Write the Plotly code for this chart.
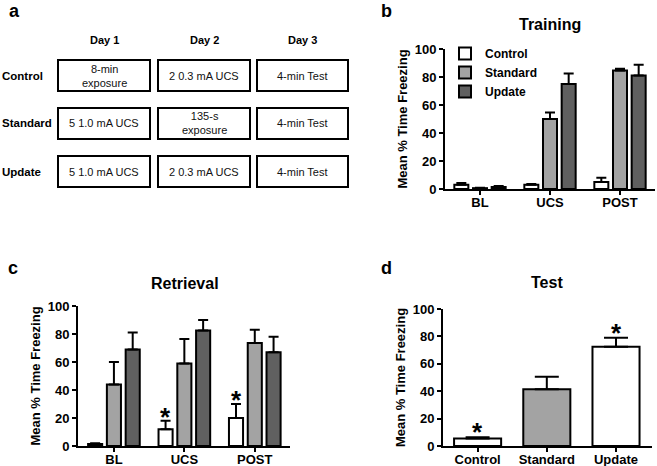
import plotly.graph_objects as go

W, H = 657, 466

# ---------------- data ----------------
phases = ["BL", "UCS", "POST"]
groups = ["Control", "Standard", "Update"]

training_control = [3.0, 3.0, 5.0]
training_control_err = [1.3, 0.6, 3.0]
training_standard = [0.6, 50.0, 84.7]
training_standard_err = [0.3, 4.6, 1.2]
training_update = [1.5, 75.0, 81.0]
training_update_err = [0.6, 7.5, 7.7]

retrieval_control = [1.5, 12.0, 20.0]
retrieval_control_err = [0.5, 6.0, 10.0]
retrieval_standard = [44.0, 59.0, 73.5]
retrieval_standard_err = [16.0, 17.5, 9.5]
retrieval_update = [69.0, 82.5, 67.0]
retrieval_update_err = [12.0, 7.5, 11.0]

test_groups = ["Control", "Standard", "Update"]
test_values = [5.5, 41.5, 72.5]
test_err = [0.8, 9.0, 6.5]

retrieval_sig = [("UCS", "Control"), ("POST", "Control")]
test_sig = ["Control", "Update"]

y_ticks = [0, 20, 40, 60, 80, 100]

design_days = ["Day 1", "Day 2", "Day 3"]
design_rows = ["Control", "Standard", "Update"]
design_cells = [
    ["8-min<br>exposure", "2 0.3 mA UCS", "4-min Test"],
    ["5 1.0 mA UCS", "135-s<br>exposure", "4-min Test"],
    ["5 1.0 mA UCS", "2 0.3 mA UCS", "4-min Test"],
]

# ---------------- styles ----------------
FONT = "Liberation Sans, Arial, sans-serif"
colors = {"Control": "#ffffff", "Standard": "#a3a3a3", "Update": "#606060"}
test_colors = ["#ffffff", "#a3a3a3", "#ffffff"]
BARGAP = 0.2


def px(xp):
    return xp / W


def py(yp):
    return 1 - yp / H


fig = go.Figure()

series_b = [
    ("Control", training_control, training_control_err),
    ("Standard", training_standard, training_standard_err),
    ("Update", training_update, training_update_err),
]
series_c = [
    ("Control", retrieval_control, retrieval_control_err),
    ("Standard", retrieval_standard, retrieval_standard_err),
    ("Update", retrieval_update, retrieval_update_err),
]

for name, vals, errs in series_b:
    fig.add_trace(go.Bar(
        x=phases, y=vals, name=name, xaxis="x", yaxis="y",
        marker=dict(color=colors[name], line=dict(color="black", width=2)),
        error_y=dict(type="data", array=errs, arrayminus=[0] * len(errs), symmetric=False,
                     color="black", thickness=2, width=5),
        showlegend=True,
    ))

for name, vals, errs in series_c:
    fig.add_trace(go.Bar(
        x=phases, y=vals, name=name, xaxis="x2", yaxis="y2",
        marker=dict(color=colors[name], line=dict(color="black", width=2)),
        error_y=dict(type="data", array=errs, arrayminus=[0] * len(errs), symmetric=False,
                     color="black", thickness=2, width=5),
        showlegend=False,
    ))

fig.add_trace(go.Bar(
    x=test_groups, y=test_values, xaxis="x3", yaxis="y3", width=0.68,
    marker=dict(color=test_colors, line=dict(color="black", width=2)),
    error_y=dict(type="data", array=test_err, arrayminus=[0] * len(test_err), symmetric=False,
                 color="black", thickness=2, width=12),
    showlegend=False,
))

axis_common = dict(
    showline=True, linecolor="black", linewidth=2, ticks="outside", ticklen=4,
    tickwidth=2, tickcolor="black", showgrid=False, zeroline=False, automargin=False,
    tickfont=dict(family=FONT, size=13, color="black", weight="bold"),
)
xaxis_common = dict(axis_common, ticklabelstandoff=-4)
yaxis_common = dict(
    axis_common, range=[0, 100], tickvals=y_ticks, ticklabelstandoff=0,
    title=dict(text="Mean % Time Freezing", standoff=4,
               font=dict(family=FONT, size=13, color="black", weight="bold")),
)

fig.update_layout(
    width=W, height=H, margin=dict(l=0, r=0, t=0, b=0, autoexpand=False),
    paper_bgcolor="white", plot_bgcolor="white",
    barmode="group", bargap=BARGAP, bargroupgap=0.25,
    font=dict(family=FONT, color="black"),
    xaxis=dict(xaxis_common, domain=[px(445), px(655)], anchor="y", range=[-0.5, 2.5]),
    yaxis=dict(yaxis_common, domain=[py(189), py(49)], anchor="x"),
    xaxis2=dict(xaxis_common, domain=[px(78), px(290)], anchor="y2", range=[-0.51, 2.5]),
    yaxis2=dict(yaxis_common, domain=[py(446), py(306)], anchor="x2"),
    xaxis3=dict(xaxis_common, domain=[px(443), px(652)], anchor="y3", range=[-0.5, 2.52]),
    yaxis3=dict(yaxis_common, domain=[py(446), py(309)], anchor="x3"),
    legend=dict(x=px(445), y=py(39), xanchor="left", yanchor="top",
                font=dict(family=FONT, size=12, color="black", weight="bold"),
                bgcolor="rgba(0,0,0,0)", tracegroupgap=0, itemwidth=30),
    showlegend=True,
)

# significance stars
slot = (1 - BARGAP) / 3
for phase, grp in retrieval_sig:
    i = phases.index(phase)
    g = groups.index(grp)
    top = retrieval_control[i] + retrieval_control_err[i]
    fig.add_annotation(x=i + (g - 1) * slot, y=top, xref="x2", yref="y2", text="*",
                       showarrow=False, yanchor="bottom", yshift=-13,
                       font=dict(family=FONT, size=26, color="black", weight="bold"))
for grp in test_sig:
    i = test_groups.index(grp)
    top = test_values[i] + test_err[i]
    fig.add_annotation(x=i, y=top, xref="x3", yref="y3", text="*",
                       showarrow=False, yanchor="bottom", yshift=-12,
                       font=dict(family=FONT, size=26, color="black", weight="bold"))

# panel titles
for txt, x, y in [("Training", 550, 25), ("Retrieval", 185, 283), ("Test", 547, 282)]:
    fig.add_annotation(x=px(x), y=py(y), xref="paper", yref="paper", text=txt,
                       showarrow=False, xanchor="center", yanchor="middle",
                       font=dict(family=FONT, size=16, color="black", weight="bold"))

# panel letters
for txt, x, y in [("a", 14, 11), ("b", 386, 11), ("c", 13, 268), ("d", 386, 268)]:
    fig.add_annotation(x=px(x), y=py(y), xref="paper", yref="paper", text=txt,
                       showarrow=False, xanchor="center", yanchor="middle",
                       font=dict(family=FONT, size=18, color="black", weight="bold"))

# panel a: design table
col_x = [(58, 150), (158, 250), (257, 348)]
row_y = [(60, 91), (108, 139), (156, 187)]
for j, day in enumerate(design_days):
    cx = (col_x[j][0] + col_x[j][1]) / 2
    fig.add_annotation(x=px(cx), y=py(40), xref="paper", yref="paper", text=day,
                       showarrow=False, xanchor="center", yanchor="middle",
                       font=dict(family=FONT, size=11, color="black", weight="bold"))
for i, rname in enumerate(design_rows):
    cy = (row_y[i][0] + row_y[i][1]) / 2
    fig.add_annotation(x=px(0), y=py(cy), xref="paper", yref="paper", text=rname,
                       showarrow=False, xanchor="left", yanchor="middle",
                       font=dict(family=FONT, size=11.5, color="black", weight="bold"))
    for j in range(3):
        x0, x1 = col_x[j]
        y0, y1 = row_y[i]
        fig.add_shape(type="rect", xref="paper", yref="paper",
                      x0=px(x0), x1=px(x1), y0=py(y1), y1=py(y0),
                      line=dict(color="black", width=2), fillcolor="white")
        fig.add_annotation(x=px((x0 + x1) / 2), y=py(cy), xref="paper", yref="paper",
                           text=design_cells[i][j], showarrow=False,
                           xanchor="center", yanchor="middle",
                           font=dict(family=FONT, size=11, color="#111111"))

fig.write_html("out.html", config={"displayModeBar": False},
               post_script="document.body.style.margin='0';")
